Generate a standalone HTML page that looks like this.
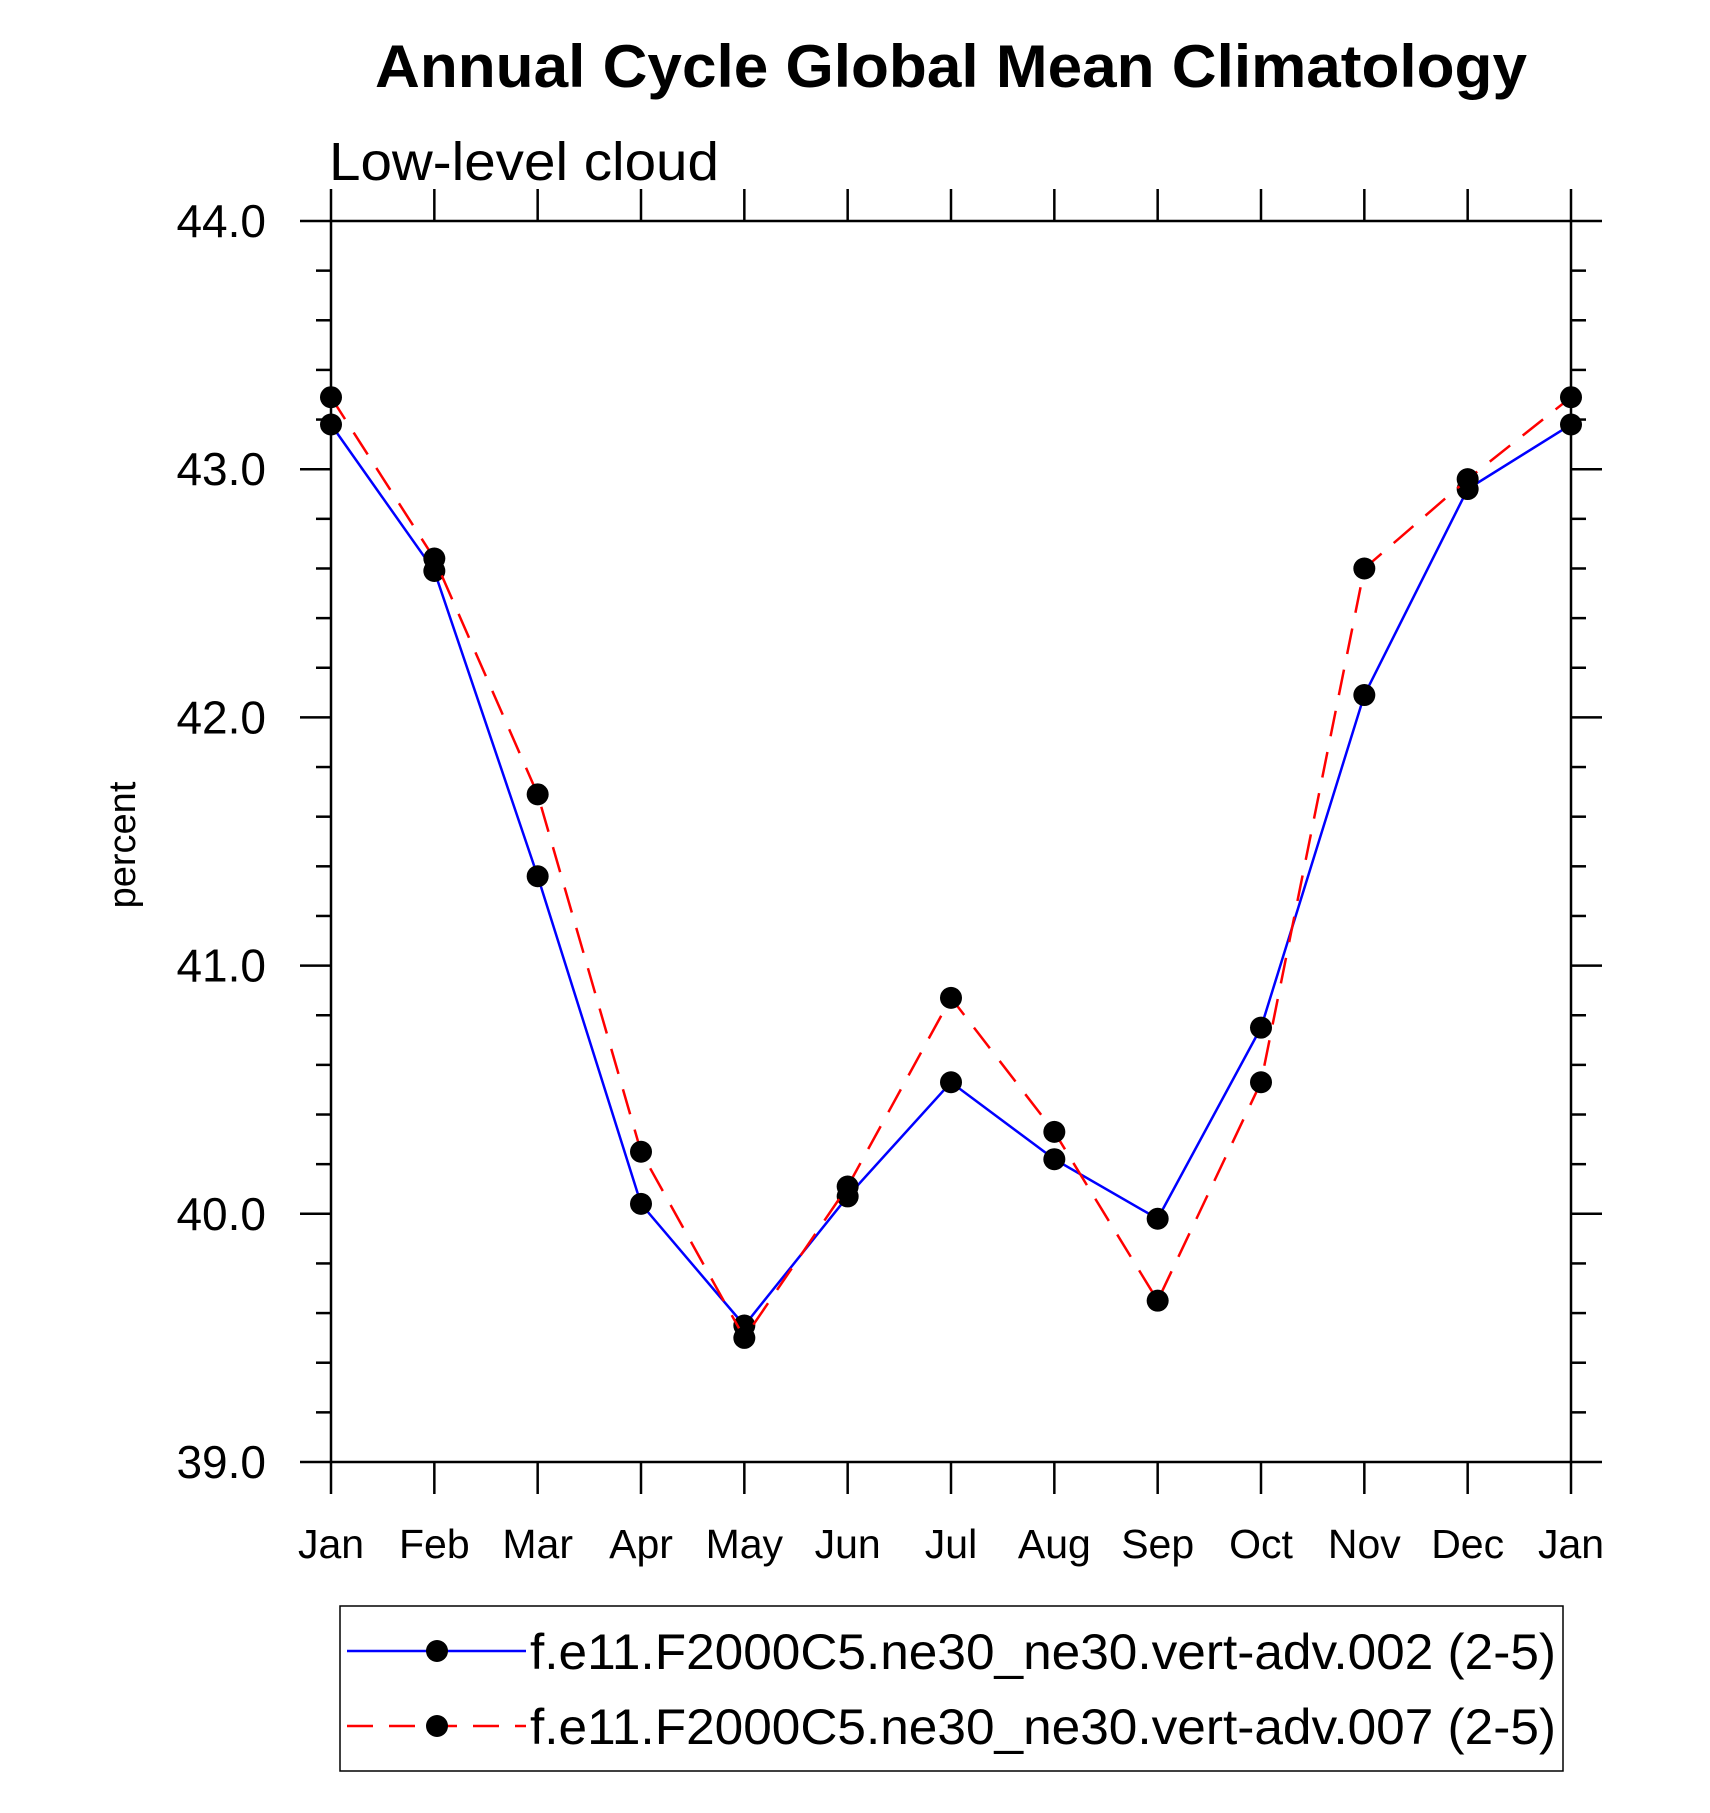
<!DOCTYPE html>
<html><head><meta charset="utf-8"><style>
html,body{margin:0;padding:0;background:#fff;}
svg{display:block;font-family:"Liberation Sans",sans-serif;}
</style></head><body>
<svg id="chart" width="1710" height="1813" viewBox="0 0 1710 1813" xmlns="http://www.w3.org/2000/svg">
<rect width="1710" height="1813" fill="#fff"/>
<text x="375" y="87" font-size="60" font-weight="bold" textLength="1152" lengthAdjust="spacingAndGlyphs">Annual Cycle Global Mean Climatology</text>
<text x="329" y="180" font-size="54" textLength="390" lengthAdjust="spacingAndGlyphs">Low-level cloud</text>
<text x="0" y="0" font-size="38" text-anchor="middle" transform="translate(135,845) rotate(-90)">percent</text>
<g id="axes"></g>
<g id="series"></g>
<g id="legend">
<rect x="340" y="1606" width="1223" height="165" fill="none" stroke="#000" stroke-width="1.5"/>
<g>
<line x1="347" y1="1651" x2="526" y2="1651" stroke="#0000ff" stroke-width="2.5"/>
<circle cx="437" cy="1651" r="11" fill="#000"/>
<text x="530" y="1669" font-size="50" textLength="1026" lengthAdjust="spacingAndGlyphs">f.e11.F2000C5.ne30_ne30.vert-adv.002 (2-5)</text>
</g>
<g>
<line x1="347" y1="1726" x2="526" y2="1726" stroke="#ff0000" stroke-width="2.5" stroke-dasharray="26,16"/>
<circle cx="437" cy="1726" r="11" fill="#000"/>
<text x="530" y="1744" font-size="50" textLength="1026" lengthAdjust="spacingAndGlyphs">f.e11.F2000C5.ne30_ne30.vert-adv.007 (2-5)</text>
</g>
</g>
</svg>
<script>
const months = ["Jan","Feb","Mar","Apr","May","Jun","Jul","Aug","Sep","Oct","Nov","Dec","Jan"];
const series002 = [43.18,42.59,41.36,40.04,39.55,40.07,40.53,40.22,39.98,40.75,42.09,42.92,43.18];
const series007 = [43.29,42.64,41.69,40.25,39.50,40.11,40.87,40.33,39.65,40.53,42.60,42.96,43.29];
const yTicks = ["39.0","40.0","41.0","42.0","43.0","44.0"];
const yMin = 39, yMax = 44;

const L=331,R=1571,T=221,B=1462;
const NS="http://www.w3.org/2000/svg";
function xs(i){return L+(R-L)*i/(months.length-1);}
function ys(v){return B-(B-T)*(v-yMin)/(yMax-yMin);}
function mk(tag,attrs,parent){const e=document.createElementNS(NS,tag);for(const k in attrs)e.setAttribute(k,attrs[k]);parent.appendChild(e);return e;}
const ax=document.getElementById('axes');
const frame=mk('rect',{x:L,y:T,width:R-L,height:B-T,fill:'none',stroke:'#000','stroke-width':2.5},ax);


months.forEach((m,i)=>{
  const x=xs(i);
  mk('line',{x1:x,y1:B,x2:x,y2:B+32,stroke:'#000','stroke-width':2.5},ax);
  mk('line',{x1:x,y1:T,x2:x,y2:T-32,stroke:'#000','stroke-width':2.5},ax);
  const t=mk('text',{x:x,y:1558,'font-size':41,'text-anchor':'middle'},ax);
  t.textContent=m;
  
  
});
for(let v=yMin; v<=yMax+1e-6; v+=0.2){
  const y=ys(v);
  const major=Math.abs(v-Math.round(v))<1e-6;
  const len=major?31:15;
  mk('line',{x1:L-len,y1:y,x2:L,y2:y,stroke:'#000','stroke-width':2.5},ax);
  mk('line',{x1:R,y1:y,x2:R+len,y2:y,stroke:'#000','stroke-width':2.5},ax);
}
yTicks.forEach(s=>{
  const t=mk('text',{x:266,y:ys(parseFloat(s))+16,'font-size':46,'text-anchor':'end'},ax);
  t.textContent=s;
  
  
});
const sg=document.getElementById('series');
function draw(vals,color,dash,name){
  const g=mk('g',{},sg);
  
  
  const pts=vals.map((v,i)=>xs(i)+','+ys(v)).join(' ');
  const a={points:pts,fill:'none',stroke:color,'stroke-width':2.5};
  if(dash)a['stroke-dasharray']=dash;
  mk('polyline',a,g);
  vals.forEach((v,i)=>{
    const c=mk('circle',{cx:xs(i),cy:ys(v),r:11,fill:'#000'},g);
    
    
  });
}
draw(series002,'#0000ff',null,'series-002');
draw(series007,'#ff0000','26,16','series-007');
</script>
</body></html>
